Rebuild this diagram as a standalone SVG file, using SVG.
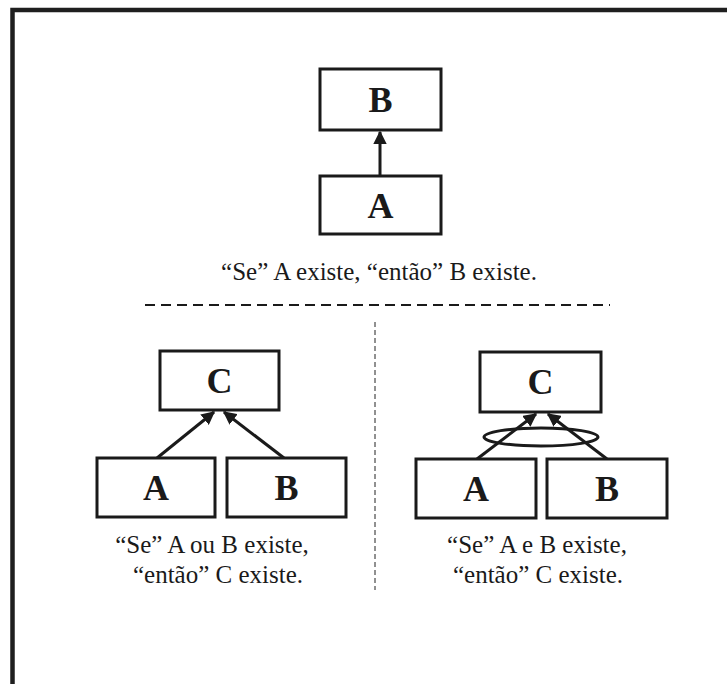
<svg xmlns="http://www.w3.org/2000/svg" width="727" height="684" viewBox="0 0 727 684">
<style>
.box{fill:#fff;stroke:#1a1a1a;stroke-width:3}
.lbl{font-family:"Liberation Serif","Times New Roman",serif;font-weight:bold;font-size:36px;fill:#1a1a1a;text-anchor:middle}
.cap{font-family:"Liberation Serif","Times New Roman",serif;font-size:25px;fill:#1a1a1a;text-anchor:middle}
.arr{stroke:#1a1a1a;stroke-width:3;fill:none;marker-end:url(#ah)}
</style>
<defs>
<marker id="ah" viewBox="0 0 10 10" refX="9" refY="5" markerWidth="4.5" markerHeight="4.5" orient="auto" markerUnits="strokeWidth">
<path d="M0,0 L10,5 L0,10 Z" fill="#1a1a1a"/>
</marker>
</defs>
<rect width="727" height="684" fill="#fff"/>
<path d="M12.5,684 V10 H727" fill="none" stroke="#1f1f1f" stroke-width="4.5"/>
<g id="connectors">
<line class="arr" x1="380" y1="176" x2="380" y2="132"/>
<line class="arr" x1="157" y1="458" x2="214" y2="412"/>
<line class="arr" x1="284" y1="458" x2="224" y2="412"/>
<line class="arr" x1="477" y1="459" x2="536" y2="414"/>
<line class="arr" x1="607" y1="459" x2="548" y2="414"/>
<ellipse cx="541" cy="437" rx="57" ry="9" fill="none" stroke="#1a1a1a" stroke-width="3"/>
</g>
<g id="top-B"><rect class="box" x="320" y="69" width="121" height="61"/><text class="lbl" x="380.5" y="112">B</text></g>
<g id="top-A"><rect class="box" x="320" y="176" width="121" height="58"/><text class="lbl" x="380.5" y="218">A</text></g>
<text class="cap" x="379" y="280">“Se” A existe, “então” B existe.</text>
<line x1="145" y1="305" x2="610" y2="305" stroke="#1a1a1a" stroke-width="2" stroke-dasharray="10 6"/>
<line x1="375" y1="322" x2="375" y2="590" stroke="#222" stroke-width="1" stroke-dasharray="5 3"/>
<g id="left-C"><rect class="box" x="160" y="351" width="119" height="59"/><text class="lbl" x="219.5" y="393">C</text></g>
<g id="left-A"><rect class="box" x="97" y="458" width="118" height="59"/><text class="lbl" x="156" y="500">A</text></g>
<g id="left-B"><rect class="box" x="227" y="458" width="119" height="59"/><text class="lbl" x="286.5" y="500">B</text></g>
<text class="cap" x="212" y="553">“Se” A ou B existe,</text>
<text class="cap" x="218" y="583">“então” C existe.</text>
<g id="right-C"><rect class="box" x="480" y="352" width="121" height="60"/><text class="lbl" x="540.5" y="394">C</text></g>
<g id="right-A"><rect class="box" x="416" y="459" width="120" height="59"/><text class="lbl" x="476" y="501">A</text></g>
<g id="right-B"><rect class="box" x="547" y="459" width="120" height="59"/><text class="lbl" x="607" y="501">B</text></g>
<text class="cap" x="537" y="553">“Se” A e B existe,</text>
<text class="cap" x="538" y="583">“então” C existe.</text>
</svg>
